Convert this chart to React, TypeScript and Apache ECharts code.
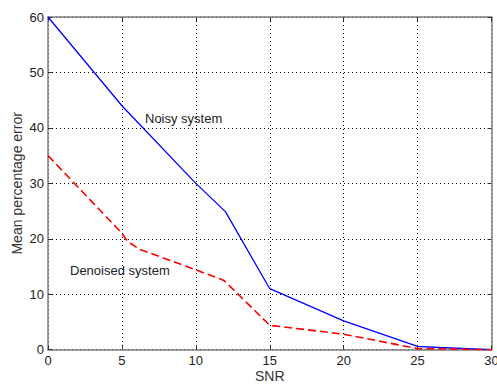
import React, { useEffect, useRef } from "react";
import * as echarts from "echarts";

const snrNoisy = [0, 5, 10, 12, 15, 20, 25, 26.5, 30];
const errNoisy = [60, 44, 30, 24.9, 11, 5.2, 0.6, 0.4, 0];
const snrDenoised = [0, 5, 5.4, 6.2, 10, 11.9, 15, 20, 25, 30];
const errDenoised = [35, 21, 19.5, 18.1, 14.4, 12.5, 4.4, 2.8, 0.2, 0];
const xTicks = [0, 5, 10, 15, 20, 25, 30];
const yTicks = [0, 10, 20, 30, 40, 50, 60];

export default function App() {
  const ref = useRef<HTMLDivElement>(null);
  useEffect(() => {
    const chart = echarts.init(ref.current!, null, { renderer: "svg" });
    const font = "'Liberation Sans', Arial, sans-serif";
    const axisGray = "#7f7f7f";
    const common = {
      type: "value" as const,
      axisLine: { show: true, onZero: false, lineStyle: { color: axisGray, width: 1.5 } },
      axisTick: { show: true, inside: true, length: 4, lineStyle: { color: "#333", width: 1 } },
    };
    chart.setOption({
      animation: false,
      backgroundColor: "#fff",
      grid: {
        left: 48,
        top: 17,
        right: 5.5,
        bottom: 34.3,
        containLabel: false,
        outerBoundsMode: "none",
      },
      xAxis: [
        {
          ...common,
          min: xTicks[0],
          max: xTicks[xTicks.length - 1],
          interval: 5,
          position: "bottom",
          name: "SNR",
          nameLocation: "middle",
          nameGap: 19,
          nameMoveOverlap: false,
          nameTextStyle: { fontFamily: font, fontSize: 14, color: "#333" },
          axisLabel: { fontFamily: font, fontSize: 13, color: "#222", margin: 4 },
          splitLine: { show: true, lineStyle: { color: "#000", type: [1, 3], width: 1 } },
        },
        {
          ...common,
          min: xTicks[0],
          max: xTicks[xTicks.length - 1],
          interval: 5,
          position: "top",
          axisLabel: { show: false },
          splitLine: { show: false },
        },
      ],
      yAxis: [
        {
          ...common,
          min: yTicks[0],
          max: yTicks[yTicks.length - 1],
          interval: 10,
          position: "left",
          name: "Mean percentage error",
          nameLocation: "middle",
          nameGap: 24,
          nameMoveOverlap: false,
          nameTextStyle: { fontFamily: font, fontSize: 14, color: "#333" },
          axisLabel: { fontFamily: font, fontSize: 13, color: "#222", margin: 4 },
          splitLine: { show: true, lineStyle: { color: "#000", type: [1, 3], width: 1 } },
        },
        {
          ...common,
          min: yTicks[0],
          max: yTicks[yTicks.length - 1],
          interval: 10,
          position: "right",
          axisLabel: { show: false },
          splitLine: { show: false },
        },
      ],
      series: [
        {
          type: "line",
          data: snrNoisy.map((x, i) => [x, errNoisy[i]]),
          symbol: "none",
          lineStyle: { color: "#0000ff", width: 1.3 },
          z: 3,
        },
        {
          type: "line",
          data: snrDenoised.map((x, i) => [x, errDenoised[i]]),
          symbol: "none",
          lineStyle: { color: "#ff0000", width: 1.6, type: [8, 4] },
          z: 4,
        },
      ],
      graphic: [
        {
          type: "text",
          left: 145,
          top: 112,
          style: { text: "Noisy system", font: `13px ${font}`, fill: "#222" },
        },
        {
          type: "text",
          left: 70,
          top: 264,
          style: { text: "Denoised system", font: `13px ${font}`, fill: "#222" },
        },
      ],
    });
    return () => chart.dispose();
  }, []);
  return (
    <div
      ref={ref}
      style={{ position: "absolute", left: 0, top: 0, width: 497, height: 384 }}
    />
  );
}
